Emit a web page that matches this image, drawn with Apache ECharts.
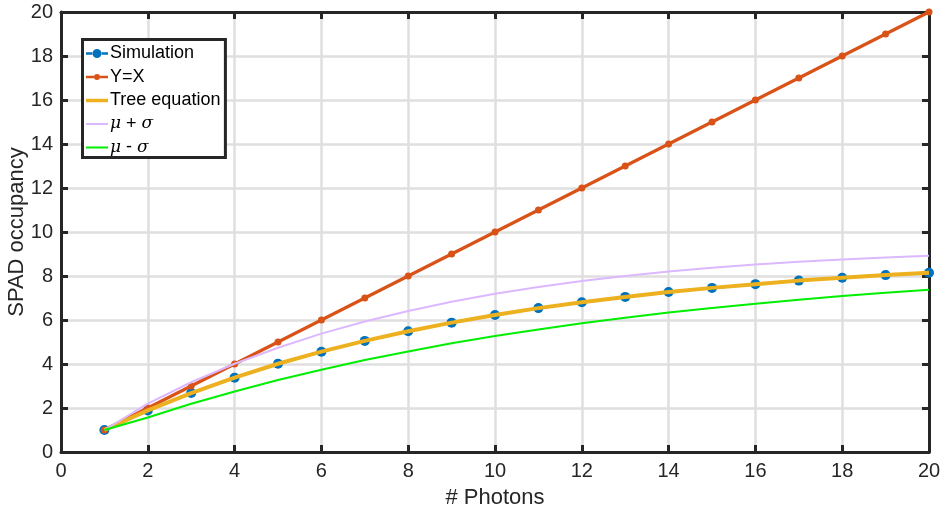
<!DOCTYPE html>
<html>
<head>
<meta charset="utf-8">
<script src="https://cdn.jsdelivr.net/npm/echarts@6/dist/echarts.min.js"></script>
<style>
  html, body { margin: 0; padding: 0; background: #fff; }
  #chart { width: 942px; height: 513px; }
</style>
</head>
<body>
<div id="chart"></div>
<script>
// photons (x) and values
var photons = [1, 2, 3, 4, 5, 6, 7, 8, 9, 10, 11, 12, 13, 14, 15, 16, 17, 18, 19, 20];
var simulation = [1.00, 1.89, 2.68, 3.38, 4.01, 4.56, 5.05, 5.49, 5.88, 6.23, 6.54, 6.81, 7.05, 7.27, 7.46, 7.63, 7.79, 7.92, 8.04, 8.15];
var yEqualsX = [1, 2, 3, 4, 5, 6, 7, 8, 9, 10, 11, 12, 13, 14, 15, 16, 17, 18, 19, 20];
var treeEq = [1.00, 1.89, 2.68, 3.38, 4.01, 4.56, 5.05, 5.49, 5.88, 6.23, 6.54, 6.81, 7.05, 7.27, 7.46, 7.63, 7.79, 7.92, 8.04, 8.15];
var muPlusSigma = [1.00, 2.20, 3.17, 4.01, 4.74, 5.38, 5.93, 6.41, 6.83, 7.19, 7.50, 7.77, 8.00, 8.20, 8.38, 8.52, 8.65, 8.75, 8.84, 8.92];
var muMinusSigma = [1.00, 1.57, 2.19, 2.75, 3.27, 3.74, 4.18, 4.57, 4.94, 5.27, 5.57, 5.85, 6.10, 6.34, 6.55, 6.74, 6.92, 7.09, 7.24, 7.37];

function pairs(ys) {
  var out = [];
  for (var i = 0; i < photons.length; i++) out.push([photons[i], ys[i]]);
  return out;
}

var axisColor = '#262626';
var fontFam = '"Liberation Sans", Arial, Helvetica, sans-serif';

// legend icons: line with marker / plain line
var iconSim = 'path://M0,3.25h7v2.5h-7z M15,3.25h7v2.5h-7z M6.5,4.5a4.5,4.5 0 1,0 9,0a4.5,4.5 0 1,0 -9,0z';
var iconYX = 'path://M0,1.75h8v2.5h-8z M14,1.75h8v2.5h-8z M8,3a3,3 0 1,0 6,0a3,3 0 1,0 -6,0z';
var iconTree = 'path://M0,0h22v3.5h-22z';
var iconThin = 'path://M0,0h22v2h-22z';

var myChart = echarts.init(document.getElementById('chart'));

var option = {
  backgroundColor: '#fff',
  animation: false,
  grid: { left: 61, right: 13, top: 12, bottom: 61, containLabel: false, outerBoundsMode: 'none' },
  legend: {
    orient: 'vertical',
    left: 82.5,
    top: 39.5,
    padding: [5, 5, 1, 3.5],
    itemGap: 5.5,
    itemWidth: 22,
    itemHeight: 18,
    symbolKeepAspect: true,
    backgroundColor: '#fff',
    borderColor: axisColor,
    borderWidth: 3,
    textStyle: {
      fontFamily: fontFam,
      fontSize: 18,
      lineHeight: 18,
      color: '#000',
      padding: [0, 0, 0, -3],
      rich: {
        i: { fontFamily: '"DejaVu Serif", "Liberation Serif", serif', fontStyle: 'italic', fontSize: 17, lineHeight: 18, color: '#000' },
        t: { fontFamily: fontFam, fontSize: 18, lineHeight: 18, color: '#000' }
      }
    },
    formatter: function (name) {
      if (name === 'mu+') return '{i|μ}{t| + }{i|σ}';
      if (name === 'mu-') return '{i|μ}{t| - }{i|σ}';
      return name;
    },
    data: [
      { name: 'Simulation', icon: iconSim },
      { name: 'Y=X', icon: iconYX },
      { name: 'Tree equation', icon: iconTree },
      { name: 'mu+', icon: iconThin },
      { name: 'mu-', icon: iconThin }
    ]
  },
  xAxis: [{
    type: 'value',
    min: 0, max: 20, interval: 2,
    name: '# Photons',
    nameLocation: 'middle',
    nameGap: 35,
    nameMoveOverlap: false,
    nameTextStyle: { fontFamily: fontFam, fontSize: 22, color: axisColor },
    axisLine: { show: true, onZero: false, lineStyle: { color: axisColor, width: 3 } },
    axisTick: { show: true, inside: true, length: 7, lineStyle: { color: axisColor, width: 3 } },
    axisLabel: { fontFamily: fontFam, fontSize: 20, color: axisColor, margin: 9 },
    splitLine: { show: true, lineStyle: { color: '#dfdfdf', width: 2.5 } }
  }, {
    type: 'value', position: 'top',
    min: 0, max: 20, interval: 2,
    axisLine: { show: true, onZero: false, lineStyle: { color: axisColor, width: 3 } },
    axisTick: { show: true, inside: true, length: 7, lineStyle: { color: axisColor, width: 3 } },
    axisLabel: { show: false },
    splitLine: { show: false }
  }],
  yAxis: [{
    type: 'value',
    min: 0, max: 20, interval: 2,
    name: 'SPAD occupancy',
    nameLocation: 'middle',
    nameGap: 33,
    nameMoveOverlap: false,
    nameTextStyle: { fontFamily: fontFam, fontSize: 22, color: axisColor },
    axisLine: { show: true, onZero: false, lineStyle: { color: axisColor, width: 3 } },
    axisTick: { show: true, inside: true, length: 7, lineStyle: { color: axisColor, width: 3 } },
    axisLabel: { fontFamily: fontFam, fontSize: 20, color: axisColor, margin: 8 },
    splitLine: { show: true, lineStyle: { color: '#dfdfdf', width: 2.5 } }
  }, {
    type: 'value', position: 'right',
    min: 0, max: 20, interval: 2,
    axisLine: { show: true, onZero: false, lineStyle: { color: axisColor, width: 3 } },
    axisTick: { show: true, inside: true, length: 7, lineStyle: { color: axisColor, width: 3 } },
    axisLabel: { show: false },
    splitLine: { show: false }
  }],
  series: [
    {
      name: 'Simulation', type: 'line', data: pairs(simulation),
      symbol: 'circle', symbolSize: 10,
      itemStyle: { color: '#0072BD' },
      lineStyle: { color: '#0072BD', width: 2.5 },
      z: 2
    },
    {
      name: 'Y=X', type: 'line', data: pairs(yEqualsX),
      symbol: 'circle', symbolSize: 7,
      itemStyle: { color: '#D95319' },
      lineStyle: { color: '#D95319', width: 3.2 },
      z: 3
    },
    {
      name: 'Tree equation', type: 'line', data: pairs(treeEq),
      symbol: 'none',
      itemStyle: { color: '#EDB120' },
      lineStyle: { color: '#EDB120', width: 4 },
      z: 4
    },
    {
      name: 'mu+', type: 'line', data: pairs(muPlusSigma),
      symbol: 'none',
      itemStyle: { color: '#dcb8ff' },
      lineStyle: { color: '#dcb8ff', width: 2 },
      z: 5
    },
    {
      name: 'mu-', type: 'line', data: pairs(muMinusSigma),
      symbol: 'none',
      itemStyle: { color: '#00ee00' },
      lineStyle: { color: '#00ee00', width: 2 },
      z: 6
    }
  ]
};

myChart.setOption(option);
</script>
</body>
</html>
